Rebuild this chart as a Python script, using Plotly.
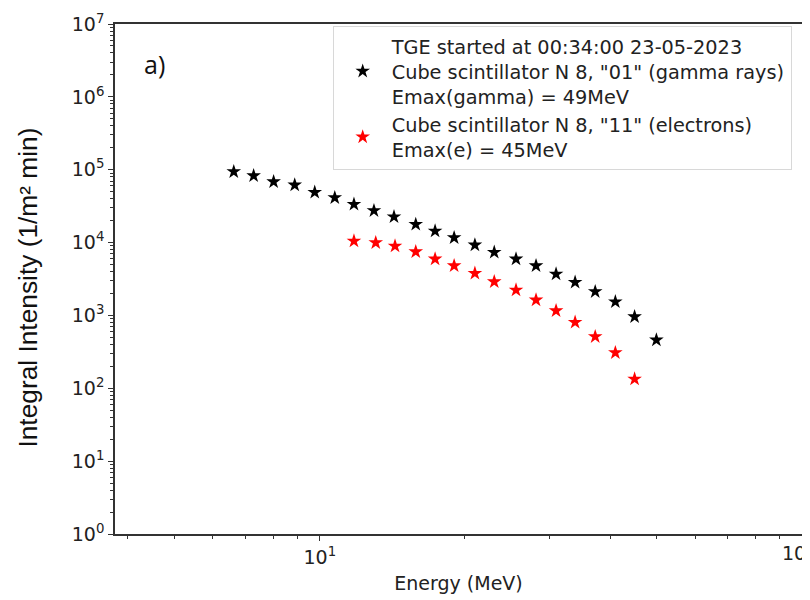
import plotly.graph_objects as go
import math

# Data
energy_gamma = [6.63, 7.29, 8.02, 8.87, 9.76, 10.74, 11.77, 12.95, 14.25, 15.81, 17.34,
                18.99, 20.97, 23.00, 25.52, 28.08, 30.90, 33.84, 37.25, 41.01, 44.96, 49.89]
intensity_gamma = [93900, 82700, 68400, 61700, 48950, 41300, 33500, 27400, 22600, 17800, 14400,
                   11660, 9270, 7350, 5950, 4810, 3700, 2850, 2120, 1540, 960, 460]
energy_e = [11.77, 13.06, 14.32, 15.81, 17.34, 18.99, 20.97, 23.00, 25.52, 28.08, 30.90,
            33.84, 37.25, 41.01, 44.96]
intensity_e = [10500, 9960, 8970, 7490, 5950, 4810, 3790, 2900, 2230, 1630, 1160,
               805, 511, 308, 134]

name_gamma = ('TGE started at 00:34:00 23-05-2023<br>'
              'Cube scintillator N 8, "01" (gamma rays)<br>'
              'Emax(gamma) = 49MeV')
name_e = 'Cube scintillator N 8, "11" (electrons)<br>Emax(e) = 45MeV'

y_tickvals = [10 ** k for k in range(0, 8)]
y_ticktext = ['10<sup>%d</sup>' % k for k in range(0, 8)]
x_tickvals = [10, 100]
# the right-hand label is cut at the chart edge in the original; only "10" is visible
x_ticktext = ['10<sup>1</sup>', '']
x_edge_label = '10'

FONT = 'DejaVu Sans'
AXC = '#333333'
TXC = '#222222'

fig = go.Figure()
fig.add_trace(go.Scatter(x=energy_gamma, y=intensity_gamma, mode='markers', name=name_gamma,
                         marker=dict(symbol='star', size=11, color='black',
                                     line=dict(width=0))))
fig.add_trace(go.Scatter(x=energy_e, y=intensity_e, mode='markers', name=name_e,
                         marker=dict(symbol='star', size=11, color='#ff0000',
                                     line=dict(width=0))))

# page body has an 8px margin, so the figure is drawn 8px in from the window corner
fig.update_layout(
    width=802, height=592,
    margin=dict(l=107, r=8, t=16, b=66, autoexpand=False),
    paper_bgcolor='white', plot_bgcolor='white',
    font=dict(family=FONT, size=19, color=TXC),
    showlegend=True,
    legend=dict(x=0.985, y=0.996, xanchor='right', yanchor='top',
                bgcolor='rgba(255,255,255,0.9)', bordercolor='#d8d8d8', borderwidth=1,
                font=dict(family=FONT, size=19.3, color=TXC),
                itemsizing='trace', itemwidth=48, valign='middle'),
)

fig.update_xaxes(type='log', range=[math.log10(3.76), 2], automargin=False,
                 tickmode='array', tickvals=x_tickvals, ticktext=x_ticktext,
                 ticks='outside', ticklen=5, tickwidth=1, tickcolor=AXC,
                 showline=True, linecolor=AXC, linewidth=1.5, mirror=True,
                 showgrid=False, zeroline=False,
                 tickfont=dict(family=FONT, size=19, color=TXC),
                 minor=dict(dtick='D1', ticks='outside',
                            ticklen=3, tickwidth=1, tickcolor=AXC, showgrid=False),
                 title=dict(text='Energy (MeV)', font=dict(family=FONT, size=19, color=TXC),
                            standoff=10))
fig.update_yaxes(type='log', range=[0, 7], automargin=False,
                 tickmode='array', tickvals=y_tickvals, ticktext=y_ticktext,
                 ticks='outside', ticklen=5, tickwidth=1, tickcolor=AXC,
                 showline=True, linecolor=AXC, linewidth=1.5, mirror=True,
                 showgrid=False, zeroline=False,
                 tickfont=dict(family=FONT, size=19, color=TXC),
                 minor=dict(dtick='D1', ticks='outside',
                            ticklen=3, tickwidth=1, tickcolor=AXC, showgrid=False))

fig.add_annotation(text=x_edge_label, xref='x', yref='paper', x=math.log10(x_tickvals[-1]),
                   y=-0.037, xanchor='right', yanchor='middle', xshift=6, showarrow=False,
                   font=dict(family=FONT, size=19, color=TXC))
fig.add_annotation(text='Integral Intensity (1/m² min)', textangle=-90,
                   xref='paper', yref='paper', x=-0.126, y=0.484,
                   xanchor='center', yanchor='middle', showarrow=False,
                   font=dict(family='Liberation Sans', size=26.3, color='#111111'))
fig.add_annotation(text='a)', xref='paper', yref='paper', x=0.058, y=0.922,
                   xanchor='center', yanchor='middle', showarrow=False,
                   font=dict(family='Open Sans', size=25, color='#111111'))

fig.write_html('out.html')
